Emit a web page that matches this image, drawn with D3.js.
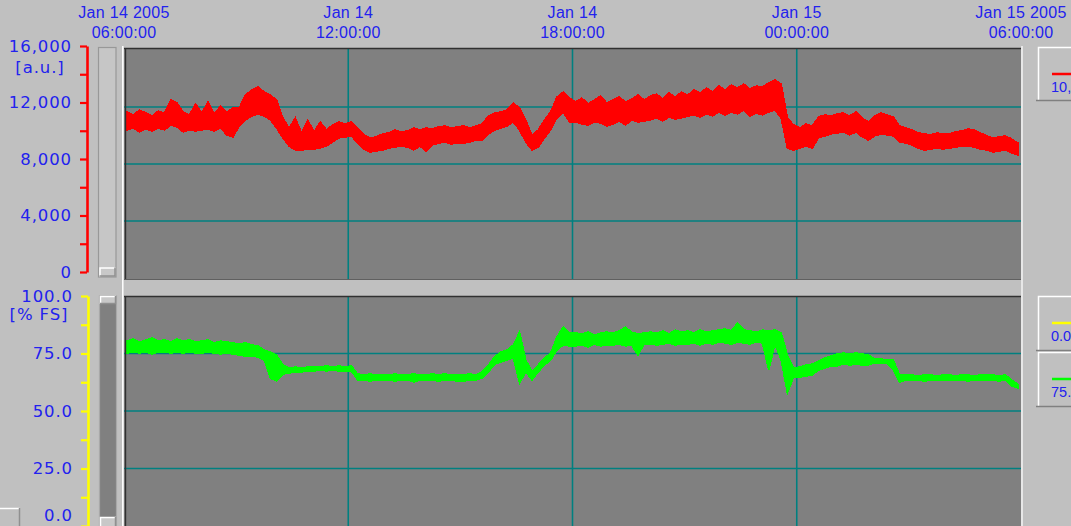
<!DOCTYPE html>
<html><head><meta charset="utf-8">
<script src="https://cdn.jsdelivr.net/npm/d3@7"></script>
<style>
html,body{margin:0;padding:0;background:#c0c0c0;overflow:hidden;}
svg{display:block;}
</style></head><body>
<svg id="chart" width="1071" height="526"></svg>
<script>
// ---------------- DATA ----------------
const timeTickHours = [0, 6, 12, 18, 24];            // hours after Jan 14 2005 06:00
const timeTickDate  = ["Jan 14 2005", "Jan 14", "Jan 14", "Jan 15", "Jan 15 2005"];
const timeTickClock = ["06:00:00", "12:00:00", "18:00:00", "00:00:00", "06:00:00"];
const gridHours = [6, 12, 18];

const topTickValues  = [0, 2000, 4000, 6000, 8000, 10000, 12000, 14000, 16000];
const topLabelValues = [0, 4000, 8000, 12000, 16000];
const topGridValues  = [4000, 8000, 12000];
const topUnit = "[a.u.]";

const botTickValues  = [0, 12.5, 25, 37.5, 50, 62.5, 75, 87.5, 100];
const botLabelValues = [0, 25, 50, 75, 100];
const botGridValues  = [25, 50, 75];
const botUnit = "[% FS]";

const sampleMinutes = 10;   // each sample = min/max envelope of a 10-minute bucket
const redHigh = [
 11650,11440,11790,11580,11370,11720, 11580,12490,12280,11650,11440,12210,
 11580,12350,11510,12070,11650,11930, 11930,12840,13190,13400,13050,12840,
 12490,11230,10530,11230,10180,11090, 10250,10950,10390,10740,10950,10810,
 10950,10530,10040,9830,9900,10110,   10180,10390,10250,10320,10530,10390,
 10530,10460,10600,10670,10530,10600, 10670,10530,10670,10810,11370,11580,
 11650,11790,12280,11930,11090,9970,  10390,11090,11650,12700,13050,12630,
 12350,12630,12210,12490,12770,12280, 12490,12700,12350,12560,12840,12490,
 12770,12910,12560,12980,12700,13050, 12840,13190,12980,13330,13050,13470,
 13190,13540,13330,13610,13260,13470, 13400,13690,13900,13610,11230,10740,
 10530,10810,10670,11300,11440,11370, 11510,11580,11370,11650,11230,10950,
 11370,11580,11440,11300,10670,10530, 10390,10180,10110,10040,10180,10110,
 10110,10250,10320,10460,10390,10180, 9970,9830,9900,9970,9760,9470
];
const redLow = [
 10390,10530,10250,10460,10320,10530, 10390,10740,10600,10250,10390,10320,
 10390,10460,10320,10530,10040,9900,  10670,11090,11370,11510,11370,11090,
 10530,9830,9260,8980,8980,9050,      9050,9120,9260,9540,9830,9900,
 9970,9470,9050,8840,8910,8980,       9120,9190,9260,9190,8980,9260,
 8910,9330,9470,9540,9400,9470,       9470,9540,9680,9680,10110,10390,
 10530,10670,10950,10390,9540,8980,   9190,9830,10390,11230,11650,10950,
 10950,10810,10740,10950,10880,10670, 10810,11020,10740,11090,10950,11020,
 11090,11230,11020,11300,11160,11230, 11370,11440,11300,11510,11370,11650,
 11440,11650,11510,11790,11370,11580, 11440,11650,11790,11230,9120,8980,
 9120,9260,9120,9830,9970,10110,      10180,10250,10040,10250,9900,9680,
 9970,10110,10040,9970,9540,9470,     9330,9120,8980,9050,9120,9050,
 9120,9190,9260,9260,9190,9050,       8980,8840,8910,8980,8770,8630
];
const greenHigh = [
 80.4,81.3,80.0,80.9,81.7,80.4, 80.9,80.0,81.3,80.4,80.9,80.0,
 80.4,80.9,79.6,80.4,80.0,79.6, 79.1,79.6,78.7,78.3,76.5,75.7,
 74.3,70.0,68.7,69.1,68.7,69.1, 69.1,69.1,69.6,69.1,69.6,69.1,
 69.6,66.1,65.7,66.1,65.7,65.7, 65.7,66.1,65.7,65.7,66.1,65.7,
 65.7,66.1,65.7,66.1,65.7,65.7, 65.7,66.1,65.7,67.0,70.0,73.5,
 75.7,76.5,78.7,84.3,72.2,67.0, 70.0,73.0,75.2,82.2,86.5,83.9,
 83.9,83.5,84.3,83.0,83.9,84.3, 83.9,84.8,86.5,84.3,83.5,83.9,
 84.3,83.9,84.8,83.5,85.2,84.3, 84.8,83.9,85.2,84.3,84.8,85.2,
 85.7,84.8,88.3,85.2,84.8,84.3, 85.2,84.8,85.2,83.9,74.3,68.7,
 69.1,70.0,70.4,71.7,73.0,73.9, 74.8,75.2,74.8,75.2,74.8,74.3,
 72.6,72.6,72.2,72.2,65.7,65.7, 65.7,65.2,65.7,65.7,65.2,65.7,
 65.7,65.2,65.7,65.7,65.2,65.7, 65.7,65.7,65.2,65.7,63.5,61.7
];
const greenLow = [
 75.2,75.7,75.2,75.7,74.8,75.7, 75.7,75.2,75.7,75.2,75.7,75.2,
 75.2,75.7,75.2,74.8,75.2,74.8, 74.3,73.9,73.9,73.5,72.2,64.3,
 63.0,66.1,66.5,67.0,67.0,67.4, 67.4,67.8,67.4,67.8,67.4,67.4,
 67.4,63.5,63.5,63.0,63.5,63.5, 63.5,63.0,63.5,63.5,62.6,63.5,
 63.5,63.5,63.0,63.5,63.5,63.0, 63.0,63.5,63.5,64.3,67.0,70.4,
 71.3,72.2,73.0,62.2,67.0,63.5, 67.0,70.0,72.2,76.5,78.7,78.3,
 78.3,78.7,77.8,79.1,78.3,78.7, 78.7,79.1,78.3,78.7,74.3,79.1,
 79.1,78.7,79.1,79.6,78.7,79.1, 79.1,79.6,78.7,79.6,79.1,80.0,
 79.6,79.1,80.0,79.6,79.1,80.0, 79.6,67.8,79.1,72.2,57.8,64.8,
 64.8,65.2,65.7,67.8,68.7,69.6, 69.6,70.4,70.0,70.4,70.0,70.0,
 70.9,70.9,70.9,67.8,62.6,63.5, 63.5,63.5,63.0,63.5,63.5,63.5,
 63.5,63.5,63.5,63.0,63.5,63.5, 63.5,63.5,63.0,63.5,60.9,60.0
];
const legendTexts  = ["10,", "0.0", "75."];
const legendColors = ["#ff0000", "#ffff00", "#00ff00"];

// ---------------- LAYOUT ----------------
const W = 1071, H = 526;
const PL = 124, PR = 1021;
const panelA = {y0: 48, y1: 279};
const panelB = {y0: 296, y1: 530};
const BLUE = "#2222ee", GRID = "#008080", PLOTBG = "#808080";

const svg = d3.select("#chart");
const start = new Date(2005, 0, 14, 6, 0, 0);
const end = d3.timeHour.offset(start, 24);
const x = d3.scaleTime().domain([start, end]).range([PL, PR]);

const yTop = d3.scaleLinear().domain([0, 16000]).range([278, 50]);
const yTopAxis = d3.scaleLinear().domain([0, 16000]).range([272, 46]);
const yBot = d3.scaleLinear().domain([0, 100]).range([526, 296]);

svg.append("rect").attr("width", W).attr("height", H).attr("fill", "#c0c0c0");

// plot backgrounds
[panelA, panelB].forEach((p, k) => {
  svg.append("rect").attr("x", PL).attr("y", p.y0).attr("width", PR - PL).attr("height", p.y1 - p.y0)
    .attr("fill", PLOTBG);
  svg.append("clipPath").attr("id", "clip" + k).append("rect")
    .attr("x", PL + 1).attr("y", p.y0 + 1).attr("width", PR - PL - 1).attr("height", p.y1 - p.y0 - 1);
});

// grid
function grid(p, yS, vals) {
  const g = svg.append("g").attr("stroke", GRID).attr("stroke-width", 1.6);
  vals.forEach(v => g.append("line").attr("x1", PL).attr("x2", PR).attr("y1", yS(v)).attr("y2", yS(v)));
  gridHours.forEach(h => {
    const xx = x(d3.timeHour.offset(start, h));
    g.append("line").attr("x1", xx).attr("x2", xx).attr("y1", p.y0).attr("y2", p.y1);
  });
}
grid(panelA, yTop, topGridValues);
grid(panelB, yBot, botGridValues);

// series: min/max envelope band per bucket
function buckets(hi, lo) {
  return hi.map((h, i) => ({t: d3.timeMinute.offset(start, i * sampleMinutes + sampleMinutes / 2), hi: h, lo: lo[i]}));
}
function drawSeries(data, yS, color, k) {
  const g = svg.append("g").attr("clip-path", "url(#clip" + k + ")");
  g.append("path").datum(data)
    .attr("fill", color).attr("stroke", color).attr("stroke-width", 1.6).attr("stroke-linejoin", "miter")
    .attr("shape-rendering", "crispEdges")
    .attr("d", d3.area().x(d => x(d.t)).y0(d => yS(d.lo)).y1(d => yS(d.hi)));
}
drawSeries(buckets(redHigh, redLow), yTop, "#ff0000", 0);
drawSeries(buckets(greenHigh, greenLow), yBot, "#00ff00", 1);

// frames
[panelA, panelB].forEach(p => {
  svg.append("line").attr("x1", PL).attr("x2", PR).attr("y1", p.y0 + 0.5).attr("y2", p.y0 + 0.5)
    .attr("stroke", "#303030").attr("stroke-width", 1.6);
  svg.append("line").attr("x1", PL + 1.5).attr("x2", PL + 1.5).attr("y1", p.y0).attr("y2", p.y1)
    .attr("stroke", "#303030").attr("stroke-width", 1.4);
});
svg.append("line").attr("x1", PL).attr("x2", PR).attr("y1", panelA.y1 + 0.5).attr("y2", panelA.y1 + 0.5)
  .attr("stroke", "#606060").attr("stroke-width", 1);
svg.append("line").attr("x1", 122.8).attr("x2", 122.8).attr("y1", 46).attr("y2", H)
  .attr("stroke", "#ffffff").attr("stroke-width", 1.5);
svg.append("line").attr("x1", PR + 1).attr("x2", PR + 1).attr("y1", 46).attr("y2", H)
  .attr("stroke", "#f4f4f4").attr("stroke-width", 1.5);

// scrollbars
function thumb(x0, y0, w, h) {
  svg.append("rect").attr("x", x0).attr("y", y0).attr("width", w).attr("height", h).attr("fill", "#c8c8c8");
  svg.append("path").attr("d", `M${x0 + 0.5},${y0 + h}V${y0 + 0.5}H${x0 + w}`)
    .attr("fill", "none").attr("stroke", "#ffffff").attr("stroke-width", 1.5);
  svg.append("path").attr("d", `M${x0 + w - 0.5},${y0}V${y0 + h - 0.5}H${x0}`)
    .attr("fill", "none").attr("stroke", "#909090").attr("stroke-width", 1.5);
}
svg.append("rect").attr("x", 98.5).attr("y", 47.5).attr("width", 17.5).attr("height", 229.5)
  .attr("fill", "#c6c6c6").attr("stroke", "#989898").attr("stroke-width", 1.2);
thumb(99.5, 267.5, 16, 9);
svg.append("rect").attr("x", 99.5).attr("y", 296).attr("width", 17).attr("height", 240)
  .attr("fill", "#808080").attr("stroke", "#a8a8a8").attr("stroke-width", 1.2);
thumb(100, 296, 16, 8);
thumb(100, 517, 16, 12);

// axes
function styleAxis(g, color) {
  g.select(".domain").attr("stroke", color).attr("stroke-width", 2.6);
  g.selectAll(".tick line").attr("stroke", color).attr("stroke-width", 2.2);
  g.selectAll(".tick text").attr("fill", BLUE)
    .style("font-family", "'DejaVu Sans', sans-serif").style("font-size", "16.5px")
    .style("letter-spacing", "0.9px");
  g.attr("font-family", null).attr("font-size", null);
}
const gTop = svg.append("g").attr("transform", "translate(87,0)")
  .call(d3.axisLeft(yTopAxis).tickValues(topTickValues).tickSize(7).tickSizeOuter(0).tickPadding(8)
    .tickFormat(d => topLabelValues.includes(d) ? d3.format(",")(d) : ""));
styleAxis(gTop, "#ff0000");
const gBot = svg.append("g").attr("transform", "translate(88,0)")
  .call(d3.axisLeft(yBot).tickValues(botTickValues).tickSize(7).tickSizeOuter(0).tickPadding(8)
    .tickFormat(d => botLabelValues.includes(d) ? d3.format(".1f")(d) : ""));
styleAxis(gBot, "#ffff00");
// keep the lowest label inside the window
gBot.selectAll(".tick text").filter(d => d === 0).attr("dy", "-0.32em");

const unitStyle = s => s.attr("fill", BLUE).attr("text-anchor", "middle")
  .style("font-family", "'DejaVu Sans', sans-serif").style("font-size", "16.5px").style("letter-spacing", "0.9px");
svg.append("text").attr("x", 40).attr("y", 73).text(topUnit).call(unitStyle);
svg.append("text").attr("x", 39).attr("y", 320).text(botUnit).call(unitStyle);

// time labels
const tl = svg.append("g").attr("fill", BLUE).attr("text-anchor", "middle")
  .style("font-family", "'Liberation Sans', Arial, sans-serif").style("font-size", "16px")
  .style("letter-spacing", "0.3px");
timeTickHours.forEach((h, i) => {
  const xx = x(d3.timeHour.offset(start, h));
  tl.append("text").attr("x", xx).attr("y", 18).text(timeTickDate[i]);
  tl.append("text").attr("x", xx).attr("y", 38).text(timeTickClock[i]);
});

// legend boxes
const boxes = [{y: 47, h: 54}, {y: 296, h: 55}, {y: 352, h: 55}];
boxes.forEach((b, i) => {
  const x0 = 1038;
  svg.append("rect").attr("x", x0).attr("y", b.y).attr("width", 40).attr("height", b.h).attr("fill", "#c0c0c0");
  svg.append("path").attr("d", `M${x0 + 0.5},${b.y + b.h}V${b.y + 0.5}H${W}`)
    .attr("fill", "none").attr("stroke", "#ffffff").attr("stroke-width", 1.5);
  svg.append("line").attr("x1", x0 - 2).attr("x2", W).attr("y1", b.y + b.h - 0.5).attr("y2", b.y + b.h - 0.5)
    .attr("stroke", "#808080").attr("stroke-width", 1.5);
  svg.append("line").attr("x1", 1052).attr("x2", W).attr("y1", b.y + 27).attr("y2", b.y + 27)
    .attr("stroke", legendColors[i]).attr("stroke-width", 2.5);
  svg.append("text").attr("x", 1051).attr("y", b.y + 45).text(legendTexts[i])
    .attr("fill", BLUE).style("font-family", "'Liberation Sans', Arial, sans-serif").style("font-size", "14.5px");
});

// bottom-left small button
svg.append("rect").attr("x", 0).attr("y", 508).attr("width", 19.5).attr("height", 20).attr("fill", "#c0c0c0");
svg.append("path").attr("d", "M0,508.5H19.5").attr("stroke", "#ffffff").attr("stroke-width", 1.5);
svg.append("path").attr("d", "M19.5,508V526").attr("stroke", "#909090").attr("stroke-width", 1.5);
</script>
</body></html>
